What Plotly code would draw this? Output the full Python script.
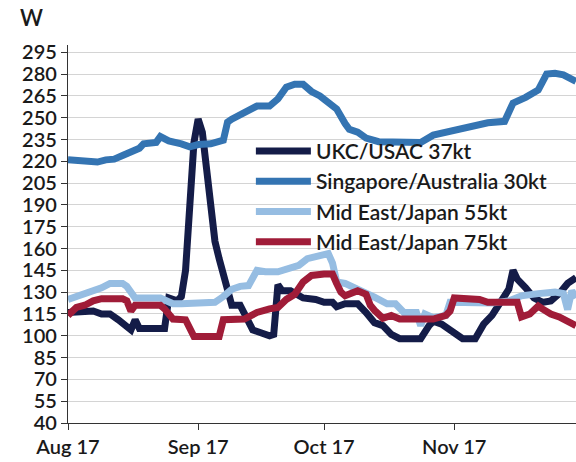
import plotly.graph_objects as go

# ---- data ----
ukc_dates = ["2017-08-01","2017-08-07","2017-08-09","2017-08-11","2017-08-13","2017-08-15","2017-08-16",
             "2017-08-17","2017-08-18","2017-08-24","2017-08-25","2017-08-27","2017-08-28","2017-08-29",
             "2017-08-30","2017-08-31","2017-09-01","2017-09-02","2017-09-03","2017-09-04","2017-09-05",
             "2017-09-06","2017-09-07","2017-09-08","2017-09-09","2017-09-11","2017-09-12","2017-09-13",
             "2017-09-14","2017-09-18","2017-09-19","2017-09-20","2017-09-21","2017-09-23","2017-09-26",
             "2017-09-29","2017-10-01","2017-10-03","2017-10-04","2017-10-06","2017-10-09","2017-10-11",
             "2017-10-13","2017-10-15","2017-10-17","2017-10-19","2017-10-24","2017-10-26","2017-10-27",
             "2017-10-29","2017-10-31","2017-11-03","2017-11-06","2017-11-08","2017-11-10","2017-11-12",
             "2017-11-14","2017-11-15","2017-11-16","2017-11-18","2017-11-20","2017-11-22","2017-11-24",
             "2017-11-26","2017-11-28","2017-11-30"]
ukc_vals = [116,117,115,115,111,107,104,
            111,105,105,126,124,127,145,
            189,233,249,240,215,190,165,
            153,142,130,121,121,115,109,
            104,100,101,135,131,131,126,
            125,123,123,120,122,122,116,
            109,107,101,98,98,107,110,
            108,104,98,98,108,114,122,
            132,145,139,133,126,123,124,
            129,136,140]

sing_dates = ["2017-08-01","2017-08-04","2017-08-08","2017-08-10","2017-08-12","2017-08-14","2017-08-16",
              "2017-08-18","2017-08-19","2017-08-22","2017-08-23","2017-08-25","2017-08-28","2017-08-30",
              "2017-09-01","2017-09-04","2017-09-07","2017-09-08","2017-09-09","2017-09-11","2017-09-13",
              "2017-09-15","2017-09-18","2017-09-20","2017-09-22","2017-09-24","2017-09-26","2017-09-28",
              "2017-09-30","2017-10-02","2017-10-04","2017-10-06","2017-10-07","2017-10-09","2017-10-11",
              "2017-10-14","2017-10-24","2017-10-27","2017-10-30","2017-11-01","2017-11-04","2017-11-07",
              "2017-11-09","2017-11-13","2017-11-15","2017-11-18","2017-11-21","2017-11-23","2017-11-25",
              "2017-11-27","2017-11-30"]
sing_vals = [221,220,219.5,221,221.5,224,226,
             229,232,233,237,234,232,230,
             231.5,232,234.5,247,249,252,255,
             258,258,263,271,273,273,268,
             265,261,256,246,242,240,236,
             233.5,233,238,240,242,243.5,245,
             246.5,247.5,260,264,269,280,280.5,
             279.5,275]

me55_dates = ["2017-08-01","2017-08-04","2017-08-07","2017-08-09","2017-08-11","2017-08-14","2017-08-15",
              "2017-08-17","2017-08-23","2017-08-24","2017-08-26","2017-08-28","2017-08-31","2017-09-05",
              "2017-09-07","2017-09-09","2017-09-11","2017-09-13","2017-09-15","2017-09-17","2017-09-20",
              "2017-09-23","2017-09-25","2017-09-27","2017-09-29","2017-10-01","2017-10-02","2017-10-03",
              "2017-10-04","2017-10-06","2017-10-08","2017-10-11","2017-10-13","2017-10-16","2017-10-18",
              "2017-10-20","2017-10-23","2017-10-24","2017-10-25","2017-10-27","2017-10-30","2017-10-31",
              "2017-11-10","2017-11-14","2017-11-17","2017-11-21","2017-11-25","2017-11-27","2017-11-28",
              "2017-11-29","2017-11-30"]
me55_vals = [125,128,130,133,136,136,134,
             126,126,125,122,122,122.5,123,
             127,132,134,134.5,145,144,144,
             146,148.5,153,154,156,156.5,150,
             137,136,133.5,130,126.5,122,122,
             116,116,107,115,112.5,114,123,
             122.5,124,127.5,129,130,129,118,
             131,126]

me75_dates = ["2017-08-01","2017-08-03","2017-08-05","2017-08-07","2017-08-09","2017-08-14","2017-08-15",
              "2017-08-16","2017-08-17","2017-08-23","2017-08-24","2017-08-26","2017-08-29","2017-08-30",
              "2017-08-31","2017-09-06","2017-09-07","2017-09-12","2017-09-15","2017-09-18","2017-09-20",
              "2017-09-22","2017-09-24","2017-09-26","2017-09-28","2017-10-01","2017-10-03","2017-10-04",
              "2017-10-05","2017-10-06","2017-10-09","2017-10-11","2017-10-12","2017-10-13","2017-10-15",
              "2017-10-17","2017-10-19","2017-10-27","2017-10-30","2017-10-31","2017-11-01","2017-11-07",
              "2017-11-09","2017-11-16","2017-11-17","2017-11-19","2017-11-21","2017-11-22","2017-11-24",
              "2017-11-26","2017-11-30"]
me75_vals = [114,119.5,121,124,125.5,125.5,124,
             117,121,121,118.5,111.5,111,106,
             99.5,99.5,111,111.5,116,118.5,119.5,
             125,128.5,137,141.5,142.5,142.5,136,
             130,127.5,131,128.5,121,117.5,112,
             114,111.5,111.5,114,117,126,125,
             123,123,113,115,120.5,118.5,115,
             113,107]

series_names = ["UKC/USAC 37kt", "Singapore/Australia 30kt", "Mid East/Japan 55kt", "Mid East/Japan 75kt"]
series_colors = ["#141c48", "#3474b2", "#96bde2", "#a01c38"]

month_ticks = ["2017-08-01", "2017-09-01", "2017-10-01", "2017-11-01"]
month_labels = ["Aug 17", "Sep 17", "Oct 17", "Nov 17"]
y_ticks = list(range(40, 296, 15))

FONT = "Lato, 'Open Sans', sans-serif"
TXT = "#1a1a1a"

fig = go.Figure()
for name, color, xs, ys in zip(series_names, series_colors,
                               [ukc_dates, sing_dates, me55_dates, me75_dates],
                               [ukc_vals, sing_vals, me55_vals, me75_vals]):
    fig.add_trace(go.Scatter(x=xs, y=ys, mode="lines", name=name,
                             line=dict(color=color, width=7)))

fig.update_layout(
    width=576, height=462,
    margin=dict(l=68, r=0, t=45, b=39),
    paper_bgcolor="white", plot_bgcolor="white",
    font=dict(family=FONT, size=20, color=TXT, weight=600),
    showlegend=True,
    legend=dict(x=0.36, y=0.773, xanchor="left", yanchor="top",
                bgcolor="rgba(0,0,0,0)", font=dict(size=21, color=TXT, weight=600),
                itemwidth=55, tracegroupgap=0),
    annotations=[dict(text="W", x=-0.071, y=1.072, xref="paper", yref="paper",
                      xanchor="center", yanchor="middle",
                      showarrow=False, font=dict(size=22, color=TXT, weight=600))],
)

fig.update_xaxes(type="date", range=["2017-08-01", "2017-11-30"],
                 tickmode="array", tickvals=month_ticks, ticktext=month_labels,
                 showgrid=False, showline=True, linecolor="#333333", linewidth=1.2,
                 ticks="outside", ticklen=6, tickcolor="#333333",
                 tickfont=dict(size=20, color=TXT, weight=600))
fig.update_yaxes(range=[40, 300], tickmode="array", tickvals=y_ticks,
                 showgrid=True, gridcolor="#d4d4d4", gridwidth=1.3,
                 showline=True, linecolor="#333333", linewidth=1.2,
                 ticks="outside", ticklen=6, tickcolor="#333333",
                 tickfont=dict(size=20, color=TXT, weight=600), zeroline=False)

fig.write_html("out.html", config={"displayModeBar": False},
               post_script="document.body.style.margin='0px';document.body.style.overflow='hidden';")
